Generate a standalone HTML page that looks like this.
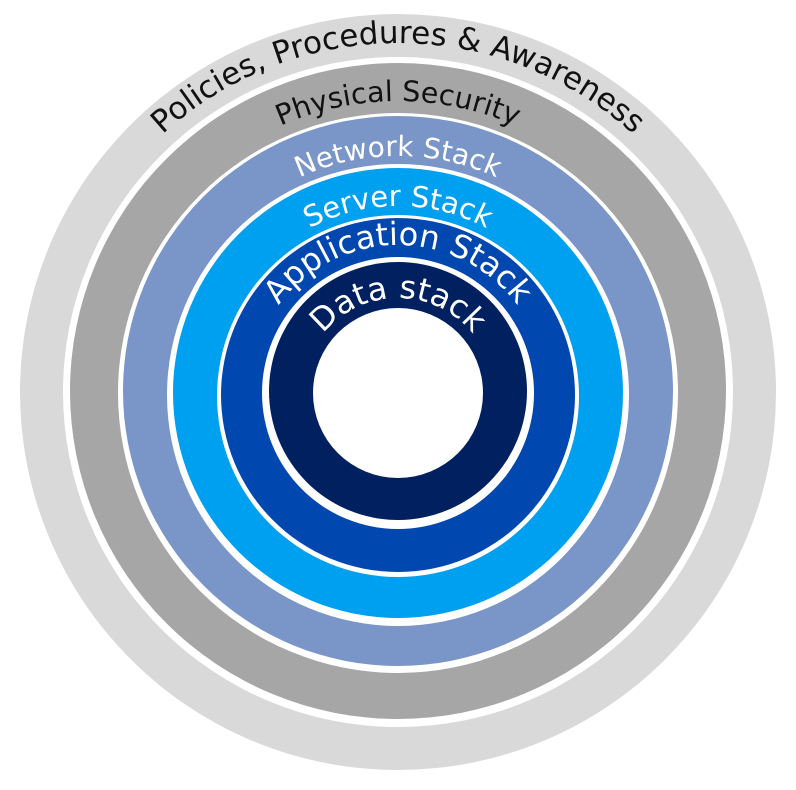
<!DOCTYPE html>
<html><head><meta charset="utf-8"><style>html,body{margin:0;padding:0;background:#fff}svg{display:block}</style></head>
<body>
<svg width="796" height="790" viewBox="0 0 796 790" xmlns="http://www.w3.org/2000/svg">
<defs>
<path id="p1" d="M398,741 A349,349 0 1 1 398,43 A349,349 0 1 1 398,741"/>
<path id="p2" d="M398,683 A291,291 0 1 1 398,101 A291,291 0 1 1 398,683"/>
<path id="p3" d="M398,628 A236,236 0 1 1 398,156 A236,236 0 1 1 398,628"/>
<path id="p4" d="M398,580 A187,187 0 1 1 398,206 A187,187 0 1 1 398,580"/>
<path id="p5" d="M398,541 A148,148 0 1 1 398,245 A148,148 0 1 1 398,541"/>
<path id="p6" d="M398,490 A96,96 0 1 1 398,298 A96,96 0 1 1 398,490"/>
</defs>
<circle cx="398" cy="392" r="378" fill="#d9d9d9"/>
<circle cx="398" cy="392" r="335" fill="#fff"/>
<circle cx="398" cy="391" r="328" fill="#a6a6a6"/>
<circle cx="398" cy="393" r="280" fill="#fff"/>
<circle cx="398" cy="391" r="275" fill="#7a96c8"/>
<circle cx="398" cy="395" r="231" fill="#fff"/>
<circle cx="398" cy="393" r="225" fill="#00a0f0"/>
<circle cx="398" cy="396" r="181" fill="#fff"/>
<circle cx="398" cy="395" r="177" fill="#0047b0"/>
<circle cx="398" cy="393" r="136" fill="#fff"/>
<circle cx="398" cy="391" r="129" fill="#002060"/>
<circle cx="398" cy="393" r="85" fill="#fff"/>
<g font-family="'DejaVu Sans','Liberation Sans',sans-serif" text-anchor="middle">
<text font-size="31" fill="#111"><textPath href="#p1" startOffset="50%">Policies, Procedures &amp; Awareness</textPath></text>
<text font-size="28.5" fill="#111"><textPath href="#p2" startOffset="50%">Physical Security</textPath></text>
<text font-size="28" fill="#fff"><textPath href="#p3" startOffset="50%">Network Stack</textPath></text>
<text font-size="29" fill="#fff"><textPath href="#p4" startOffset="50%">Server Stack</textPath></text>
<text font-size="32" fill="#fff"><textPath href="#p5" startOffset="50%">Application Stack</textPath></text>
<text font-size="32" fill="#fff"><textPath href="#p6" startOffset="50%">Data stack</textPath></text>
</g>
</svg>
</body></html>
